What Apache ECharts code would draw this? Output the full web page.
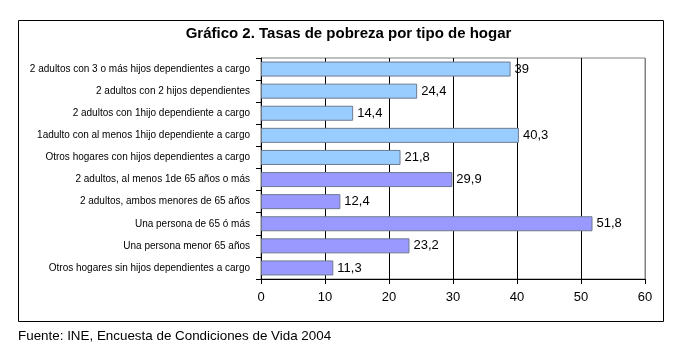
<!DOCTYPE html>
<html>
<head>
<meta charset="utf-8">
<script src="https://cdn.jsdelivr.net/npm/echarts@6/dist/echarts.min.js"></script>
<style>html,body{margin:0;padding:0;background:#fff}#c{width:697px;height:363px}</style>
</head>
<body>
<div id="c"></div>
<script>
var categories = [
  "2 adultos con 3 o más hijos dependientes a cargo",
  "2 adultos con 2 hijos dependientes",
  "2 adultos con 1hijo dependiente a cargo",
  "1adulto con al menos 1hijo dependiente a cargo",
  "Otros hogares con hijos dependientes a cargo",
  "2 adultos, al menos 1de 65 años o más",
  "2 adultos, ambos menores de 65 años",
  "Una persona de 65 ó más",
  "Una persona menor 65 años",
  "Otros hogares sin hijos dependientes a cargo"
];
var values = [39, 24.4, 14.4, 40.3, 21.8, 29.9, 12.4, 51.8, 23.2, 11.3];
var groupColors = ["#99CCFF","#99CCFF","#99CCFF","#99CCFF","#99CCFF","#9999FF","#9999FF","#9999FF","#9999FF","#9999FF"];
var xTicks = [0, 10, 20, 30, 40, 50, 60];

var font = "Liberation Sans, Arial, sans-serif";
var chart = echarts.init(document.getElementById('c'), null, {renderer: 'canvas'});
chart.setOption({
  animation: false,
  title: {
    text: "Gráfico 2. Tasas de pobreza por tipo de hogar",
    left: 'center', top: 21,
    textStyle: {fontFamily: font, fontSize: 15, fontWeight: 'bold', color: '#000'}
  },
  grid: {left: 261, top: 58, width: 384, height: 221, show: true, borderColor: '#808080', borderWidth: 1, backgroundColor: 'transparent'},
  xAxis: {
    type: 'value', min: xTicks[0], max: xTicks[xTicks.length-1], interval: 10,
    axisLine: {show: true, lineStyle: {color: '#000'}},
    axisTick: {show: true, length: 5, lineStyle: {color: '#000'}},
    axisLabel: {fontFamily: font, fontSize: 13, color: '#000', margin: 12},
    splitLine: {show: true, lineStyle: {color: ['#000','#000','#000','#000','#000','#000','#808080']}}
  },
  yAxis: {
    type: 'category', data: categories, inverse: true,
    axisLine: {show: true, lineStyle: {color: '#000'}},
    axisTick: {show: true, length: 5, lineStyle: {color: '#000'}},
    axisLabel: {fontFamily: font, fontSize: 10, color: '#000', margin: 11}
  },
  series: [{
    type: 'bar', data: values.map(function(v, i){ return {value: v, itemStyle: {color: groupColors[i]}}; }),
    barCategoryGap: '32%',
    itemStyle: {borderColor: '#6E7B8F', borderWidth: 1},
    label: {show: true, position: 'right', distance: 4, fontFamily: font, fontSize: 13, color: '#000',
      formatter: function(p){ return String(p.value).replace('.', ','); }}
  }],
  graphic: [
    {type: 'rect', shape: {x: 18.5, y: 20.5, width: 645, height: 301}, style: {fill: 'none', stroke: '#000', lineWidth: 1}, z: -1},
    {type: 'text', left: 18, top: 330, style: {text: "Fuente: INE, Encuesta de Condiciones de Vida 2004", font: "13.4px Liberation Sans, Arial, sans-serif", fill: '#000'}}
  ]
});
</script>
</body>
</html>
